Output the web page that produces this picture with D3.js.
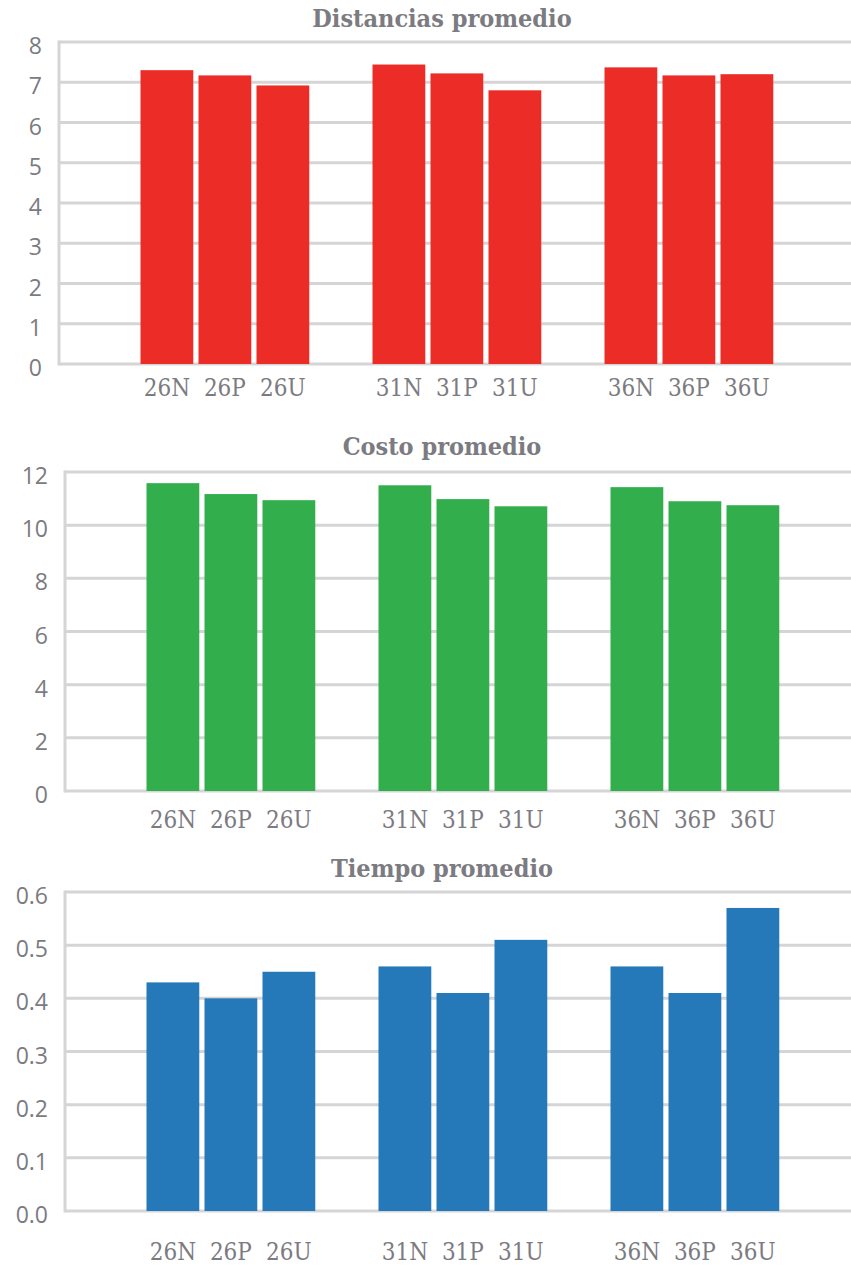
<!DOCTYPE html>
<html>
<head>
<meta charset="utf-8">
<script src="https://cdn.jsdelivr.net/npm/d3@7/dist/d3.min.js"></script>
<style>
  html, body { margin: 0; padding: 0; background: #ffffff; }
  svg { display: block; }
</style>
</head>
<body>
<script>
// Escenarios evaluados
const categories = ["26N", "26P", "26U", "31N", "31P", "31U", "36N", "36P", "36U"];

// Valores promedio por escenario
const distancias = [7.30, 7.17, 6.92, 7.44, 7.22, 6.80, 7.37, 7.17, 7.20];
const costos     = [11.58, 11.17, 10.94, 11.50, 10.98, 10.71, 11.43, 10.90, 10.75];
const tiempos    = [0.43, 0.40, 0.45, 0.46, 0.41, 0.51, 0.46, 0.41, 0.57];

// Marcas del eje vertical de cada panel
const ticksDistancias = [0, 1, 2, 3, 4, 5, 6, 7, 8];
const ticksCostos     = [0, 2, 4, 6, 8, 10, 12];
const ticksTiempos    = [0, 0.1, 0.2, 0.3, 0.4, 0.5, 0.6];

const W = 851, H = 1265;
const svg = d3.select("body").append("svg").attr("width", W).attr("height", H);

const gridColor = "#d5d5d7";
const textColor = "#7b7b81";
const serif = "'DejaVu Serif Condensed', 'DejaVu Serif', serif";
const sans = "'Open Sans', 'Noto Sans', sans-serif";

// Ranuras del eje x: un hueco vacío entre cada grupo de escenarios
const slots = [];
categories.forEach((c, i) => {
  if (i % 3 === 0) slots.push("gap" + i);
  slots.push(c);
});
slots.push("gapEnd");

const panels = [
  { title: "Distancias promedio", values: distancias, ticks: ticksDistancias, fmt: d3.format("d"),
    color: "#ec2c26", left: 59, top: 42, bottom: 364, titleY: 27, labelDy: 32 },
  { title: "Costo promedio", values: costos, ticks: ticksCostos, fmt: d3.format("d"),
    color: "#32af4c", left: 65, top: 472, bottom: 791, titleY: 455, labelDy: 37 },
  { title: "Tiempo promedio", values: tiempos, ticks: ticksTiempos, fmt: d3.format(".1f"),
    color: "#2579b9", left: 65, top: 892, bottom: 1211, titleY: 877, labelDy: 49 }
];

panels.forEach(p => {
  const g = svg.append("g");
  const maxTick = p.ticks[p.ticks.length - 1];

  const y = d3.scaleLinear().domain([0, maxTick]).range([p.bottom, p.top]);
  const r0 = p.left + 23.5;
  const x = d3.scaleBand()
    .domain(slots)
    .range([r0, r0 + 58 * (slots.length - 0.09)])
    .paddingInner(0.09)
    .paddingOuter(0);

  // Líneas de cuadrícula horizontales
  g.selectAll("line.grid").data(p.ticks).join("line")
    .attr("class", "grid")
    .attr("x1", p.left).attr("x2", W)
    .attr("y1", d => y(d)).attr("y2", d => y(d))
    .attr("stroke", gridColor).attr("stroke-width", 3);

  // Eje vertical
  g.append("line")
    .attr("x1", p.left).attr("x2", p.left)
    .attr("y1", y(maxTick) - 1.5).attr("y2", y(0) + 1.5)
    .attr("stroke", gridColor).attr("stroke-width", 3);

  // Etiquetas del eje y
  g.selectAll("text.ytick").data(p.ticks).join("text")
    .attr("class", "ytick")
    .attr("x", p.left - 17)
    .attr("y", d => y(d) + 12)
    .attr("text-anchor", "end")
    .attr("font-family", sans)
    .attr("font-size", 23)
    .attr("fill", textColor)
    .text(d => p.fmt(d));

  // Barras
  g.selectAll("rect.bar").data(categories).join("rect")
    .attr("class", "bar")
    .attr("x", d => x(d))
    .attr("width", x.bandwidth())
    .attr("y", (d, i) => y(p.values[i]))
    .attr("height", (d, i) => y(0) - y(p.values[i]))
    .attr("fill", p.color);

  // Etiquetas del eje x
  g.selectAll("text.xtick").data(categories).join("text")
    .attr("class", "xtick")
    .attr("x", d => x(d) + x.bandwidth() / 2)
    .attr("y", p.bottom + p.labelDy)
    .attr("text-anchor", "middle")
    .attr("font-family", serif)
    .attr("font-size", 24)
    .attr("fill", textColor)
    .text(d => d);

  // Título del panel
  g.append("text")
    .attr("x", 442)
    .attr("y", p.titleY)
    .attr("text-anchor", "middle")
    .attr("font-family", serif)
    .attr("font-weight", "bold")
    .attr("font-size", 25)
    .attr("fill", textColor)
    .text(p.title);
});
</script>
</body>
</html>
